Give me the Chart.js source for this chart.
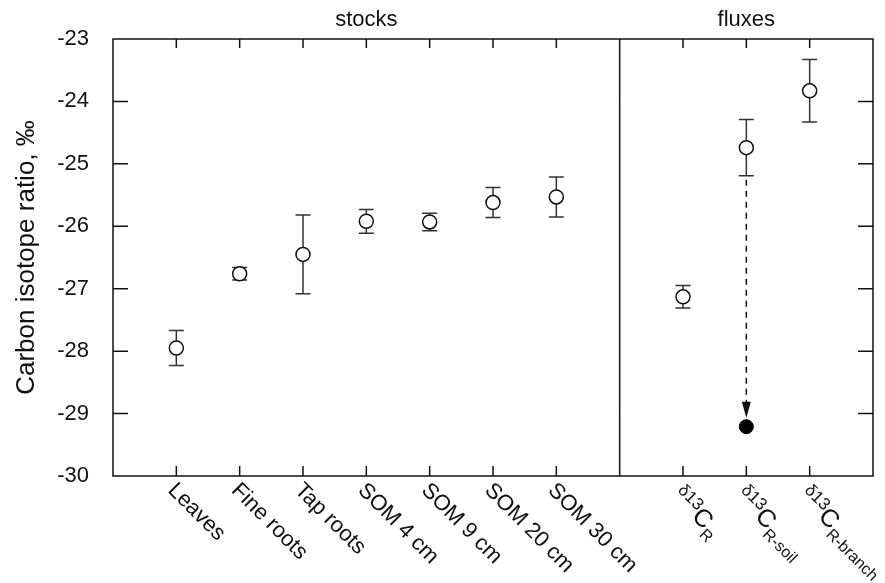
<!DOCTYPE html>
<html>
<head>
<meta charset="utf-8">
<script src="https://cdn.jsdelivr.net/npm/chart.js@4/dist/chart.umd.min.js"></script>
<style>
  html, body { margin: 0; padding: 0; background: #fff; }
  #wrap { width: 885px; height: 583px; }
</style>
</head>
<body>
<div id="wrap"><canvas id="chart" width="885" height="583"></canvas></div>
<script>
// stocks (left panel)
const stockLabels = ["Leaves", "Fine roots", "Tap roots", "SOM 4 cm", "SOM 9 cm", "SOM 20 cm", "SOM 30 cm"];
const stockX = [1, 2, 3, 4, 5, 6, 7];
const stockMeans = [-27.95, -26.76, -26.45, -25.92, -25.93, -25.62, -25.53];
const stockErr = [0.28, 0.1, 0.63, 0.19, 0.14, 0.24, 0.32];

// fluxes (right panel), label = delta13C + subscript
const fluxSubs = ["R", "R-soil", "R-branch"];
const fluxX = [9, 10, 11];
const fluxMeans = [-27.13, -24.74, -23.83];
const fluxErr = [0.18, 0.45, 0.5];

// corrected soil value (filled point, arrow from R-soil)
const soilCorrected = -29.21;
const soilIndex = 1;

const dividerX = 8;
const xRange = [0, 12];
const yRange = [-30, -23];
const panelTitles = ["stocks", "fluxes"];

const FONT = '"Liberation Sans", Arial, Helvetica, sans-serif';
const INK = "#111";

const toPoints = (xs, ys) => xs.map((x, i) => ({ x: x, y: ys[i] }));

const drawErrorBar = (ctx, x, y, xv, mean, err) => {
  const px = x.getPixelForValue(xv);
  const top = y.getPixelForValue(mean + err);
  const bot = y.getPixelForValue(mean - err);
  ctx.beginPath();
  ctx.moveTo(px, top);
  ctx.lineTo(px, bot);
  ctx.moveTo(px - 7.5, top);
  ctx.lineTo(px + 7.5, top);
  ctx.moveTo(px - 7.5, bot);
  ctx.lineTo(px + 7.5, bot);
  ctx.stroke();
};

const panelPlugin = {
  id: "panels",
  beforeDatasetsDraw(chart) {
    const { ctx, scales: { x, y } } = chart;
    ctx.save();
    ctx.strokeStyle = "#333";
    ctx.lineWidth = 1.5;
    stockX.forEach((xv, i) => drawErrorBar(ctx, x, y, xv, stockMeans[i], stockErr[i]));
    fluxX.forEach((xv, i) => drawErrorBar(ctx, x, y, xv, fluxMeans[i], fluxErr[i]));

    // dashed arrow from R-soil down to the corrected value
    const ax = x.getPixelForValue(fluxX[soilIndex]);
    const y0 = y.getPixelForValue(fluxMeans[soilIndex] - fluxErr[soilIndex]);
    const tip = y.getPixelForValue(soilCorrected) - 9;
    ctx.strokeStyle = INK;
    ctx.setLineDash([6, 5]);
    ctx.beginPath();
    ctx.moveTo(ax, y0 + 4);
    ctx.lineTo(ax, tip - 14);
    ctx.stroke();
    ctx.setLineDash([]);
    ctx.fillStyle = INK;
    ctx.beginPath();
    ctx.moveTo(ax - 4.5, tip - 16);
    ctx.lineTo(ax + 4.5, tip - 16);
    ctx.lineTo(ax, tip);
    ctx.closePath();
    ctx.fill();
    ctx.restore();
  },
  afterDatasetsDraw(chart) {
    const { ctx, chartArea: a, scales: { x, y } } = chart;
    const divPx = x.getPixelForValue(dividerX);
    ctx.save();
    ctx.strokeStyle = INK;
    ctx.lineWidth = 1.5;
    ctx.strokeRect(a.left, a.top, a.right - a.left, a.bottom - a.top);
    ctx.beginPath();
    ctx.moveTo(divPx, a.top);
    ctx.lineTo(divPx, a.bottom);

    // inward ticks
    for (let v = yRange[0] + 1; v < yRange[1]; v++) {
      const py = y.getPixelForValue(v);
      ctx.moveTo(a.left, py);
      ctx.lineTo(a.left + 15, py);
      ctx.moveTo(a.right, py);
      ctx.lineTo(a.right - 15, py);
    }
    stockX.concat(fluxX).forEach((xv) => {
      const px = x.getPixelForValue(xv);
      ctx.moveTo(px, a.top);
      ctx.lineTo(px, a.top + 9);
      ctx.moveTo(px, a.bottom);
      ctx.lineTo(px, a.bottom - 10);
    });
    ctx.stroke();

    // panel titles
    ctx.fillStyle = INK;
    ctx.font = "22px " + FONT;
    ctx.textAlign = "center";
    ctx.textBaseline = "middle";
    ctx.fillText(panelTitles[0], (a.left + divPx) / 2, 20);
    ctx.fillText(panelTitles[1], (divPx + a.right) / 2, 20);

    // rotated category labels
    ctx.textAlign = "left";
    stockX.forEach((xv, i) => {
      const px = x.getPixelForValue(xv);
      ctx.save();
      ctx.translate(px - 5, a.bottom + 11);
      ctx.rotate(Math.PI / 4);
      ctx.textBaseline = "middle";
      ctx.font = "22px " + FONT;
      ctx.fillText(stockLabels[i], 0, 0);
      ctx.restore();
    });
    fluxX.forEach((xv, i) => {
      const px = x.getPixelForValue(xv);
      ctx.save();
      ctx.translate(px - 6, a.bottom + 15);
      ctx.rotate(Math.PI / 4);
      ctx.textBaseline = "alphabetic";
      ctx.font = "17px " + FONT;
      const pre = "\u03B413";
      ctx.fillText(pre, 0, 0);
      let off = ctx.measureText(pre).width;
      ctx.font = "25px " + FONT;
      ctx.fillText("C", off, 9);
      off += ctx.measureText("C").width;
      ctx.font = "16px " + FONT;
      ctx.fillText(fluxSubs[i], off, 16);
      ctx.restore();
    });
    ctx.restore();
  },
};

new Chart(document.getElementById("chart"), {
  type: "scatter",
  data: {
    datasets: [
      {
        data: toPoints(stockX.concat(fluxX), stockMeans.concat(fluxMeans)),
        pointRadius: 7,
        pointHoverRadius: 7,
        pointBackgroundColor: "#fff",
        pointBorderColor: INK,
        pointBorderWidth: 1.5,
      },
      {
        data: [{ x: fluxX[soilIndex], y: soilCorrected }],
        pointRadius: 7,
        pointHoverRadius: 7,
        pointBackgroundColor: "#000",
        pointBorderColor: "#000",
        pointBorderWidth: 1,
      },
    ],
  },
  options: {
    responsive: false,
    animation: false,
    layout: { padding: { top: 39, right: 12, left: 0, bottom: 0 } },
    plugins: {
      legend: { display: false },
      tooltip: { enabled: false },
    },
    scales: {
      x: {
        type: "linear",
        min: xRange[0],
        max: xRange[1],
        grid: { display: false },
        border: { display: false },
        ticks: { display: false },
        afterFit: (scale) => {
          scale.height = 107;
        },
      },
      y: {
        min: yRange[0],
        max: yRange[1],
        grid: { display: false, drawTicks: false },
        border: { display: false },
        ticks: {
          stepSize: 1,
          padding: 24,
          color: INK,
          font: { family: FONT, size: 22 },
        },
        title: {
          display: true,
          text: "Carbon isotope ratio, \u2030",
          color: INK,
          padding: { top: 11, bottom: 0 },
          font: { family: FONT, size: 26 },
        },
        afterFit: (scale) => {
          scale.width = 113;
        },
      },
    },
  },
  plugins: [panelPlugin],
});
</script>
</body>
</html>
